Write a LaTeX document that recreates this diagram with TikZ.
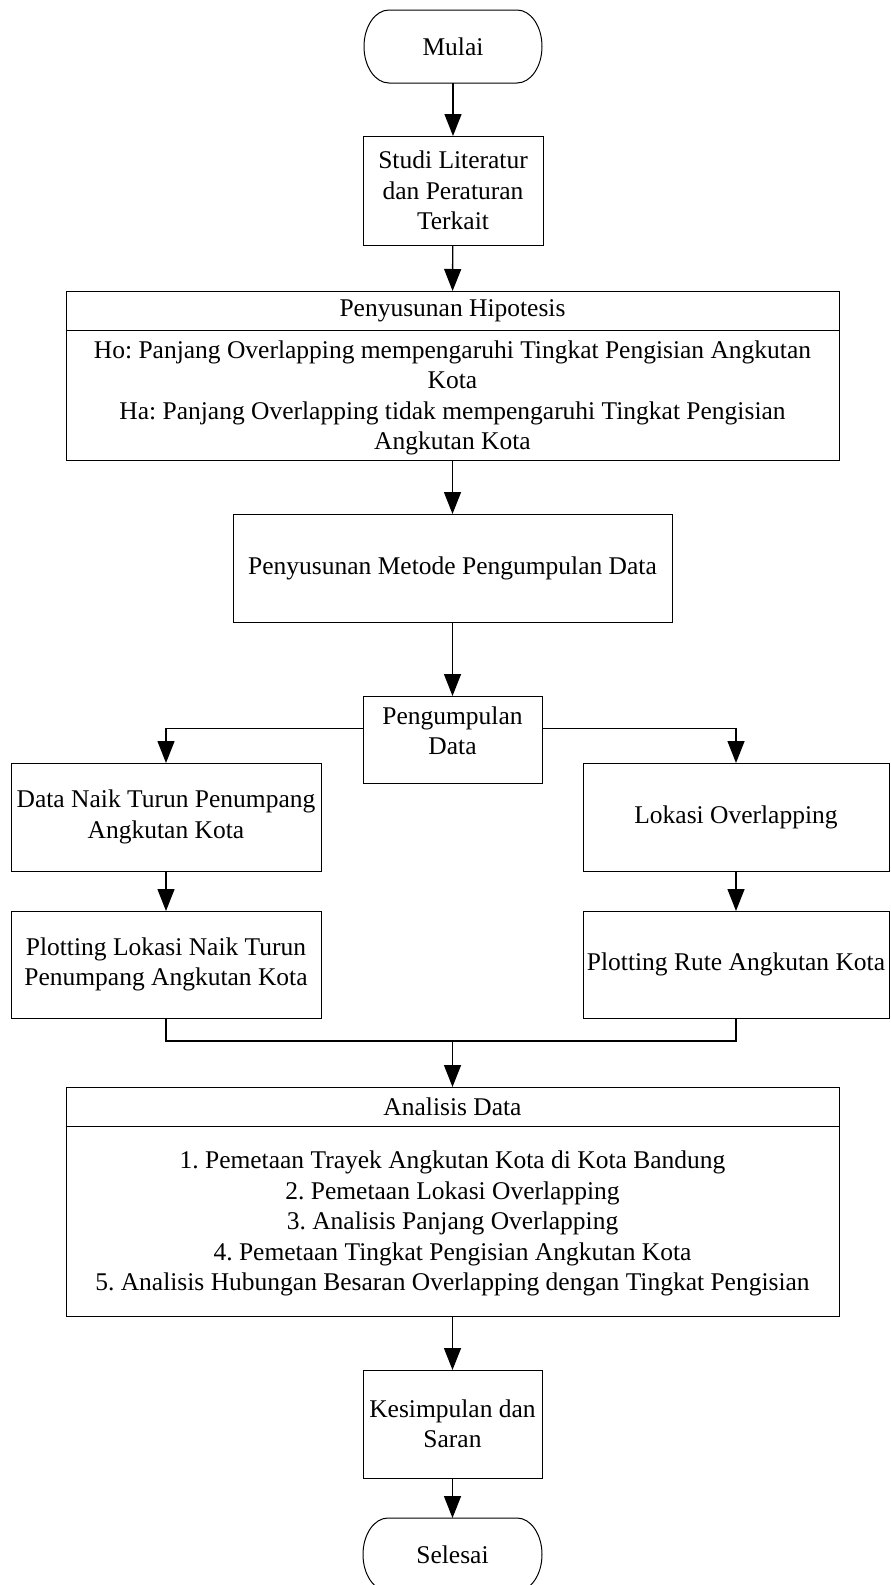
\documentclass[tikz,border=0pt]{standalone}
\usepackage{fontspec}
\setmainfont{Liberation Serif}
\usetikzlibrary{positioning,arrows.meta}
\frenchspacing

\tikzset{
  box/.style={draw=drawColor,line width=0.5pt,rectangle,align=center,
    inner xsep=1pt,inner ysep=0pt,outer sep=0pt,
    font=\fontsize{12.75}{15.25}\selectfont},
  terminal/.style={box,draw=none},
  conn/.style={draw=drawColor,line width=0.7pt},
  arr/.style={conn,-{Triangle[length=11pt,width=8.5pt]}}
}

\newcommand{\pillpath}[1]{%
  \draw[draw=drawColor,line width=0.5pt] ([xshift=12.5pt]#1.north west) -- ([xshift=-12.5pt]#1.north east)
    arc[start angle=90,end angle=-90,x radius=12.5pt,y radius=18.25pt]
    -- ([xshift=12.5pt]#1.south west)
    arc[start angle=270,end angle=90,x radius=12.5pt,y radius=18.25pt] -- cycle;}

\begin{document}
\begin{tikzpicture}[x=0.5pt,y=-0.5pt]
\definecolor{drawColor}{RGB}{0,0,0}
\path[use as bounding box] (0,0) rectangle (890,1585);

\node[terminal,minimum width=89pt,minimum height=36.5pt] (mulai) at (453,46.5) {Mulai};
\pillpath{mulai}

\node[box,minimum width=90pt,minimum height=54.5pt,text depth=-0.5pt] (studi) at (453,190.5)
  {Studi Literatur\\dan Peraturan\\Terkait};

\node[box,minimum width=386.5pt,minimum height=19.5pt] (hipohead) at (452.5,310.5)
  {Penyusunan Hipotesis};

\node[box,minimum width=386.5pt,minimum height=65pt,text depth=-2.2pt,below=0pt of hipohead] (hipobody)
  {Ho: Panjang Overlapping mempengaruhi Tingkat Pengisian Angkutan\\Kota\\
   Ha: Panjang Overlapping tidak mempengaruhi Tingkat Pengisian\\Angkutan Kota};

\node[box,minimum width=219.5pt,minimum height=54pt] (metode) at (452.5,568)
  {Penyusunan Metode Pengumpulan Data};

\node[box,minimum width=89.5pt,minimum height=43.5pt,text depth=9pt] (kumpul) at (452.5,739.5)
  {Pengumpulan\\Data};

\node[box,minimum width=155pt,minimum height=54pt] (naik) at (166,817)
  {Data Naik Turun Penumpang\\Angkutan Kota};

\node[box,minimum width=155pt,minimum height=53.5pt] (plotnaik) at (166,964.5)
  {Plotting Lokasi Naik Turun\\Penumpang Angkutan Kota};

\node[box,minimum width=153pt,minimum height=54pt] (overlap) at (736,817)
  {Lokasi Overlapping};

\node[box,minimum width=153pt,minimum height=53.5pt] (plotrute) at (736,964.5)
  {Plotting Rute Angkutan Kota};

\coordinate (gabung) at (452.5,1041);

\node[box,minimum width=386.5pt,minimum height=19.5pt] (analisishead) at (452.5,1106.5)
  {Analisis Data};

\node[box,minimum width=386.5pt,minimum height=95pt,text depth=-5pt,below=0pt of analisishead] (analisisbody)
  {1. Pemetaan Trayek Angkutan Kota di Kota Bandung\\
   2. Pemetaan Lokasi Overlapping\\
   3. Analisis Panjang Overlapping\\
   4. Pemetaan Tingkat Pengisian Angkutan Kota\\
   5. Analisis Hubungan Besaran Overlapping dengan Tingkat Pengisian};

\node[box,minimum width=89.5pt,minimum height=54pt] (kesimpulan) at (452.5,1424)
  {Kesimpulan dan\\Saran};

\node[terminal,minimum width=89.5pt,minimum height=36.5pt] (selesai) at (452.5,1554.5) {Selesai};
\pillpath{selesai}

\draw[arr] (mulai) -- (studi);

\draw[arr] (studi) -- (hipohead);

\draw[arr] (hipobody) -- (metode);

\draw[arr] (metode) -- (kumpul);

\draw[arr] ([yshift=5.5pt]kumpul.west) -| (naik.north);

\draw[arr] ([yshift=5.5pt]kumpul.east) -| (overlap.north);

\draw[arr] (naik) -- (plotnaik);

\draw[arr] (overlap) -- (plotrute);

\draw[conn] (plotnaik.south) |- (gabung) -| (plotrute.south);

\draw[arr] (gabung) -- (analisishead.north);

\draw[arr] (analisisbody) -- (kesimpulan);

\draw[arr] (kesimpulan) -- (selesai);
\end{tikzpicture}
\end{document}
